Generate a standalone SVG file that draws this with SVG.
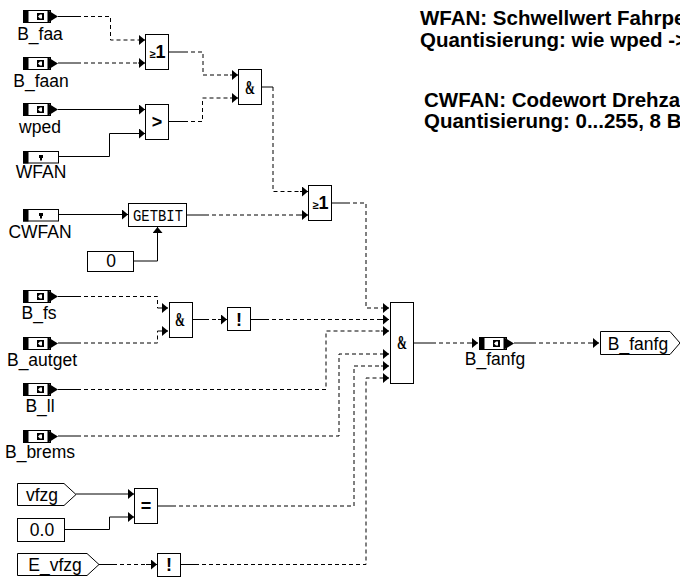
<svg xmlns="http://www.w3.org/2000/svg" width="680" height="577" viewBox="0 0 680 577">
<defs>
<marker id="a" markerUnits="userSpaceOnUse" markerWidth="7" markerHeight="10" refX="6" refY="5" orient="auto"><path d="M0 0L6 5L0 10z" fill="#000"/></marker>
<g id="inb"><rect x="0.5" y="0.5" width="27" height="12" fill="#fff" stroke="#000"/><rect x="0" y="0" width="5.500" height="13" fill="#000"/><path d="M24.500 0L35 6.500L24.500 13z" fill="#000"/><rect x="14" y="3" width="7" height="7" fill="#000"/><path d="M19 4.500V8.500H17L15 6.500L17 4.500z" fill="#fff"/></g>
<g id="inp"><rect x="23.500" y="0.500" width="35" height="11.500" fill="#fff" stroke="#000"/><rect x="23" y="0" width="5.500" height="12.500" fill="#000"/><path d="M39 4h4v3h-1v2.500h-2v-2.500h-1z" fill="#000"/></g>
</defs>
<style>
text{font-family:"Liberation Sans",Arial,sans-serif;fill:#000}
.l{font-size:17.500px;text-anchor:middle}
.n{font-size:20.500px;font-weight:700}
.g{font-size:18px;font-weight:700;text-anchor:middle}
.s{font-family:"Liberation Serif",serif}
.b{fill:#fff;stroke:#000;stroke-width:1}
.c{fill:none;stroke:#000;stroke-width:1}
.d{stroke-dasharray:4 3}
</style>
<g id="connectors">
<path class="c" d="M58 16.500H77"/><path class="c d" d="M77 16.500H110.500V40H138"/><path class="c" d="M138 40H145" marker-end="url(#a)"/>
<path class="c" d="M58 63H77"/><path class="c d" d="M77 63H138"/><path class="c" d="M138 63H145" marker-end="url(#a)"/>
<path class="c" d="M58 109.500H145" marker-end="url(#a)"/>
<path class="c" d="M58 156.500H109.500V133.500H145" marker-end="url(#a)"/>
<path class="c" d="M169 52H184"/><path class="c d" d="M184 52H203V75H230"/><path class="c" d="M230 75H238" marker-end="url(#a)"/>
<path class="c" d="M169 121.500H184"/><path class="c d" d="M184 121.500H202.500V98H230"/><path class="c" d="M230 98H238" marker-end="url(#a)"/>
<path class="c" d="M262 87H273"/><path class="c d" d="M273 87V191.500H300"/><path class="c" d="M300 191.500H308" marker-end="url(#a)"/>
<path class="c" d="M58 214.500H128" marker-end="url(#a)"/>
<path class="c" d="M187 215H205"/><path class="c d" d="M205 215H296"/><path class="c" d="M296 215H308" marker-end="url(#a)"/>
<path class="c" d="M134 261H157.500V227" marker-end="url(#a)"/>
<path class="c" d="M332 203H346"/><path class="c d" d="M346 203H366V308H381"/><path class="c" d="M381 308H389" marker-end="url(#a)"/>
<path class="c" d="M58 296.500H77"/><path class="c d" d="M77 296.500H157.500V308"/><path class="c" d="M157.500 308H168" marker-end="url(#a)"/>
<path class="c" d="M58 343H77"/><path class="c d" d="M77 343H157.500V331"/><path class="c" d="M157.500 331H168" marker-end="url(#a)"/>
<path class="c" d="M192 319.500H205"/><path class="c d" d="M205 319.500H218"/><path class="c" d="M218 319.500H227" marker-end="url(#a)"/>
<path class="c" d="M250 319.500H265"/><path class="c d" d="M265 319.500H381"/><path class="c" d="M381 319.500H389" marker-end="url(#a)"/>
<path class="c" d="M58 389.500H77"/><path class="c d" d="M77 389.500H326V331H381"/><path class="c" d="M381 331H389" marker-end="url(#a)"/>
<path class="c" d="M58 436H77"/><path class="c d" d="M77 436H339V354H381"/><path class="c" d="M381 354H389" marker-end="url(#a)"/>
<path class="c" d="M157 506H172"/><path class="c d" d="M172 506H354V366H381"/><path class="c" d="M381 366H389" marker-end="url(#a)"/>
<path class="c" d="M180 564.500H195"/><path class="c d" d="M195 564.500H366V378H381"/><path class="c" d="M381 378H389" marker-end="url(#a)"/>
<path class="c" d="M76 494H134" marker-end="url(#a)"/>
<path class="c" d="M64 529.500H109.500V517H134" marker-end="url(#a)"/>
<path class="c" d="M99 564.500H113"/><path class="c d" d="M113 564.500H146"/><path class="c" d="M146 564.500H157" marker-end="url(#a)"/>
<path class="c" d="M413 343H432"/><path class="c d" d="M432 343H470"/><path class="c" d="M470 343H478" marker-end="url(#a)"/>
<path class="c" d="M514 343H532"/><path class="c d" d="M532 343H591"/><path class="c" d="M591 343H599" marker-end="url(#a)"/>
</g>
<g id="B_faa"><use href="#inb" x="23" y="10"/><text class="l" x="40" y="40">B_faa</text></g>
<g id="B_faan"><use href="#inb" x="23" y="57"/><text class="l" x="41" y="87">B_faan</text></g>
<g id="wped"><use href="#inb" x="23" y="103"/><text class="l" x="40" y="133">wped</text></g>
<g id="WFAN"><use href="#inp" y="151"/><text class="l" x="41" y="178">WFAN</text></g>
<g id="CWFAN"><use href="#inp" y="209"/><text class="l" x="40" y="238">CWFAN</text></g>
<g id="B_fs"><use href="#inb" x="23" y="290"/><text class="l" x="39" y="319">B_fs</text></g>
<g id="B_autget"><use href="#inb" x="23" y="337"/><text class="l" x="42" y="366">B_autget</text></g>
<g id="B_ll"><use href="#inb" x="23" y="383"/><text class="l" x="40" y="412">B_ll</text></g>
<g id="B_brems"><use href="#inb" x="23" y="430"/><text class="l" x="40" y="458">B_brems</text></g>
<g id="or1"><rect class="b" x="145.500" y="34.500" width="23" height="35"/><text class="g" x="157.500" y="58"><tspan font-size="11">≥</tspan>1</text></g>
<g id="gt"><rect class="b" x="145.500" y="104.500" width="23" height="35"/><text class="g" x="157" y="128">&gt;</text></g>
<g id="and1"><rect class="b" x="238.500" y="69.500" width="23" height="35"/><text class="g s" x="250" y="94" textLength="10" lengthAdjust="spacingAndGlyphs">&amp;</text></g>
<g id="or2"><rect class="b" x="308.500" y="185.500" width="23" height="35"/><text class="g" x="320.500" y="209"><tspan font-size="11">≥</tspan>1</text></g>
<g id="GETBIT"><rect class="b" x="128.500" y="203.500" width="58" height="23"/><text x="133" y="221" font-size="17" textLength="50" lengthAdjust="spacingAndGlyphs" style="font-family:'Liberation Mono',monospace">GETBIT</text></g>
<g id="zero"><rect class="b" x="87.500" y="251.500" width="46" height="20"/><text class="l" x="111" y="267">0</text></g>
<g id="and2"><rect class="b" x="169.500" y="302.500" width="23" height="35"/><text class="g s" x="180" y="326" textLength="10" lengthAdjust="spacingAndGlyphs">&amp;</text></g>
<g id="not1"><rect class="b" x="227.500" y="307.500" width="23" height="23"/><text class="g" x="239" y="326">!</text></g>
<g id="and3"><rect class="b" x="390.500" y="302.500" width="23" height="81"/><text class="g s" x="402" y="349" textLength="10" lengthAdjust="spacingAndGlyphs">&amp;</text></g>
<g id="B_fanfg_in"><use href="#inb" x="479" y="337"/><text class="l" x="495" y="365">B_fanfg</text></g>
<g id="B_fanfg_out"><path class="b" d="M600.500 331.500H670L680 343L670 354.500H600.500z"/><text class="l" x="638" y="350">B_fanfg</text></g>
<g id="vfzg"><path class="b" d="M17.500 483.500H64L76 494.500L64 505.500H17.500z"/><text class="l" x="42" y="501">vfzg</text></g>
<g id="v00"><rect class="b" x="17.500" y="518.500" width="47" height="23"/><text class="l" x="42" y="535.500">0.0</text></g>
<g id="E_vfzg"><path class="b" d="M17.500 553.500H87L99 564.500L87 575.500H17.500z"/><text class="l" x="55" y="571">E_vfzg</text></g>
<g id="eq"><rect class="b" x="134.500" y="488.500" width="23" height="35"/><text class="g" x="146" y="512">=</text></g>
<g id="not2"><rect class="b" x="157.500" y="553.500" width="23" height="23"/><text class="g" x="169" y="571">!</text></g>
<g id="notes"><text class="n" x="420" y="25">WFAN: Schwellwert Fahrpe</text><text class="n" x="420" y="46.500">Quantisierung: wie wped -&gt;</text><text class="n" x="424" y="106.500">CWFAN: Codewort Drehza</text><text class="n" x="424" y="127.500">Quantisierung: 0...255, 8 B</text></g>
</svg>
